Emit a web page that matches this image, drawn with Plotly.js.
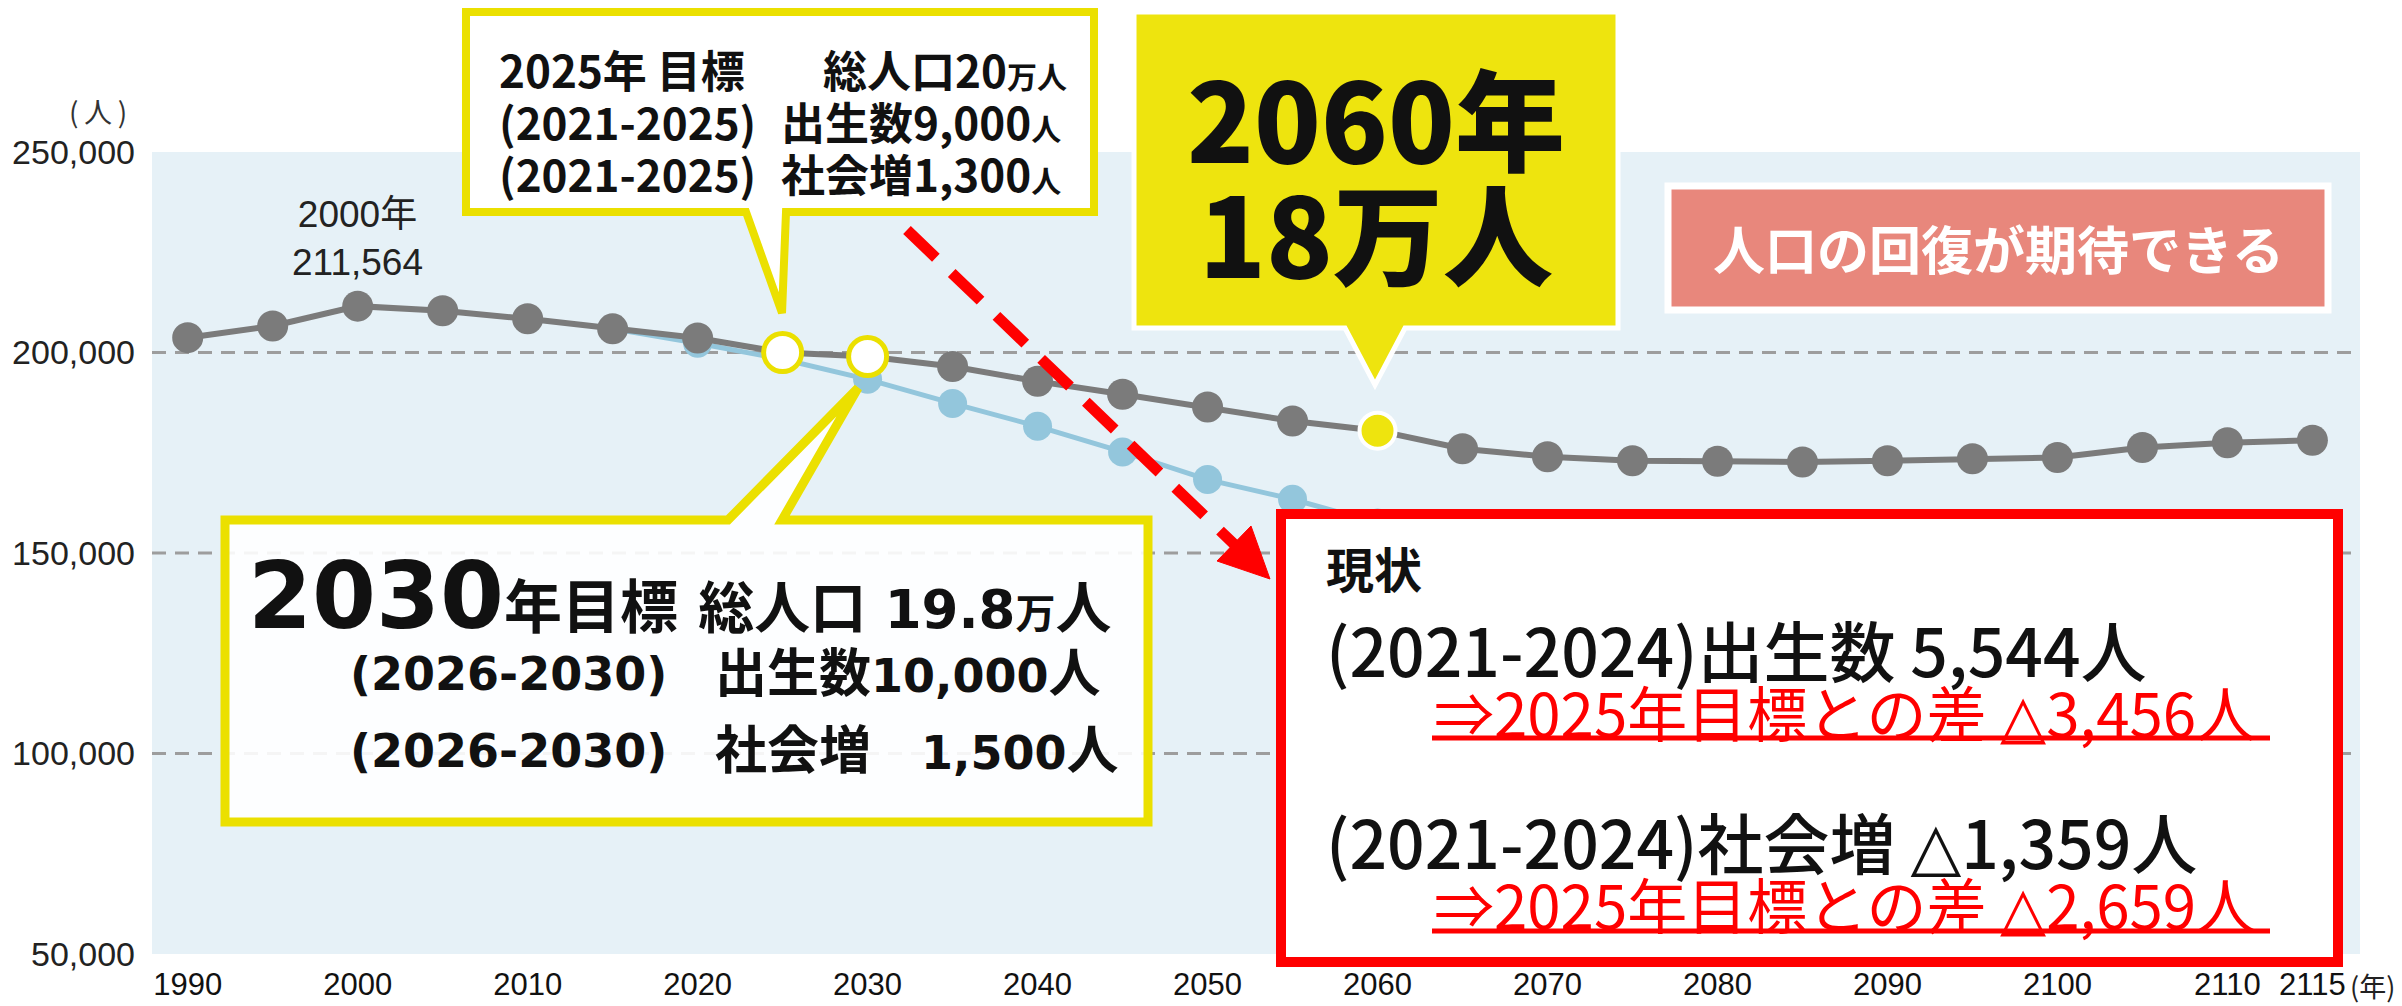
<!DOCTYPE html>
<html><head><meta charset="utf-8">
<script src="https://cdn.plot.ly/plotly-3.0.1.min.js"></script>
<style>html,body{margin:0;padding:0;background:#fff;}#chart{width:2402px;height:1006px;}</style>
</head><body><div id="chart"></div>
<script>
// ---- data ----
const years = [1990,1995,2000,2005,2010,2015,2020,2025,2030,2035,2040,2045,2050,2055,2060,2065,2070,2075,2080,2085,2090,2095,2100,2105,2110,2115];
const targetPop = [203700,206600,211564,210400,208400,205900,203600,200000,199000,196500,192800,189600,186400,182900,180500,176000,174000,173000,172900,172700,173000,173500,173800,176300,177500,178100];
const projYears = [2015,2020,2025,2030,2035,2040,2045,2050,2055,2060];
const projPop = [205900,202300,198300,193300,187300,181600,175200,168300,163400,157500];
const goalYears = [2025,2030];
const highlightYears = [2060];
const xTickVals = [1990,2000,2010,2020,2030,2040,2050,2060,2070,2080,2090,2100,2110,2115];
const xTickText = ['1990','2000','2010','2020','2030','2040','2050','2060','2070','2080','2090','2100','2110','2115'];
const yTickVals = [50000,100000,150000,200000,250000];
const gridVals = [100000,150000,200000];
const peakYear = 2000;

// ---- styling ----
const GRAY='#7b7b7b', BLUE='#93c6dc', YEL='#ebe000', YFILL='#eee40e', RED='#ff0000', SALMON='#e8877c';
const JP='"Noto Sans CJK JP", "Noto Sans", sans-serif';
const LAT='"Liberation Sans", "Noto Sans CJK JP", sans-serif';
const DJ='"DejaVu Sans", "Noto Sans CJK JP", sans-serif';
const L=152,R=2360,T=152,B=954;
const X=px=>(px-L)/(R-L), Y=py=>(B-py)/(B-T);
const path=pts=>'M'+pts.map(p=>X(p[0]).toFixed(5)+','+Y(p[1]).toFixed(5)).join('L')+'Z';
const valAt=(yr)=>targetPop[years.indexOf(yr)];

const traces=[
 {x:projYears,y:projPop,mode:'lines+markers',line:{color:BLUE,width:5},marker:{color:BLUE,size:29},hoverinfo:'skip'},
 {x:years,y:targetPop,mode:'lines+markers',line:{color:GRAY,width:6},marker:{color:GRAY,size:31},hoverinfo:'skip'},
 {x:goalYears,y:goalYears.map(valAt),mode:'markers',marker:{color:'#ffffff',size:38,line:{color:YEL,width:5}},hoverinfo:'skip'},
 {x:highlightYears,y:highlightYears.map(valAt),mode:'markers',marker:{color:YFILL,size:36,line:{color:'#ffffff',width:4}},hoverinfo:'skip'}
];

const shapes=[];
gridVals.forEach(v=>shapes.push({type:'line',xref:'paper',yref:'y',x0:0,x1:1,y0:v,y1:v,layer:'below',line:{color:'#9d9d9d',width:3,dash:'14px,9px'}}));
shapes.push({type:'path',xref:'paper',yref:'paper',layer:'above',path:path([[466,12],[1094,12],[1094,212],[786,212],[782,313],[746,212],[466,212]]),fillcolor:'#ffffff',line:{color:YEL,width:8}});
shapes.push({type:'path',xref:'paper',yref:'paper',layer:'above',path:path([[225,520],[728,520],[858,388],[782,520],[1148,520],[1148,822],[225,822]]),fillcolor:'rgba(255,255,255,0.9)',line:{color:YEL,width:9}});
shapes.push({type:'path',xref:'paper',yref:'paper',layer:'above',path:path([[1134,12],[1618,12],[1618,328],[1405,328],[1375,385],[1345,328],[1134,328]]),fillcolor:YFILL,line:{color:'#ffffff',width:5}});
shapes.push({type:'rect',xref:'paper',yref:'paper',layer:'above',x0:X(1668),x1:X(2328),y0:Y(186),y1:Y(310),fillcolor:SALMON,line:{color:'#ffffff',width:7}});
shapes.push({type:'line',xref:'paper',yref:'paper',layer:'above',x0:X(907),y0:Y(230),x1:X(1236),y1:Y(546),line:{color:RED,width:11,dash:'40px,22px'}});
shapes.push({type:'path',xref:'paper',yref:'paper',layer:'above',path:path([[1270,579],[1217,561],[1251,526]]),fillcolor:RED,line:{color:RED,width:1}});
shapes.push({type:'rect',xref:'paper',yref:'paper',layer:'above',x0:X(1281),x1:X(2338),y0:Y(962),y1:Y(514),fillcolor:'#ffffff',line:{color:RED,width:10}});
shapes.push({type:'line',xref:'paper',yref:'paper',layer:'above',x0:X(1432),x1:X(2270),y0:Y(738),y1:Y(738),line:{color:RED,width:5}});
shapes.push({type:'line',xref:'paper',yref:'paper',layer:'above',x0:X(1432),x1:X(2270),y0:Y(931),y1:Y(931),line:{color:RED,width:5}});

const anns=[];
function ann(text,px,py,size,opt){
  opt=opt||{};
  anns.push({text:text,xref:'paper',yref:'paper',x:X(px),y:Y(py),showarrow:false,xanchor:opt.xa||'left',yanchor:'middle',
    font:{family:opt.family||JP,size:size,color:opt.color||'#111',weight:opt.w||'normal'},align:opt.xa||'left'});
}
const sp=(t,s,extra)=>'<span style="font-size:'+s+'px'+(extra?';'+extra:'')+'">'+t+'</span>';
const NB='\u00a0';
ann('(\u2009人\u2009)',98,111,28,{xa:'center',color:'#333'});
anns.push({text:'2000年<br>211,564',xref:'x',x:peakYear,yref:'paper',y:Y(239),showarrow:false,xanchor:'center',yanchor:'middle',font:{family:LAT,size:37,color:'#222'}});
ann('(年)',2372,985,27,{xa:'center',color:'#222'});
// 2025 callout text
ann('2025年 目標',497,69,44,{w:'bold'});
ann('総人口20'+sp('万人',30),1069,69,44,{w:'bold',xa:'right'});
ann('(2021-2025)',497,121,44,{w:'bold'});
ann('出生数9,000'+sp('人',30),779,121,44,{w:'bold'});
ann('(2021-2025)',497,173,44,{w:'bold'});
ann('社会増1,300'+sp('人',30),779,173,44,{w:'bold'});
// 2030 callout text
ann(sp('2030',92)+sp('年目標',58)+NB+sp('総人口',56)+sp(NB+'19.8',53)+sp('万',40)+sp('人',56),1114,596,58,{w:'bold',family:DJ,xa:'right'});
ann('(2026-2030)',348,674,46,{w:'bold',family:DJ});
ann(sp('出生数',52)+'10,000'+sp('人',52),713,674,46,{w:'bold',family:DJ});
ann('(2026-2030)',348,751,46,{w:'bold',family:DJ});
ann(sp('社会増',52),713,751,46,{w:'bold',family:DJ});
ann('1,500'+sp('人',52),1121,751,46,{w:'bold',family:DJ,xa:'right'});
// 2060
ann('2060年',1376,115,110,{w:900,xa:'center'});
ann('18万人',1376,230,110,{w:900,xa:'center'});
// salmon
ann('人口の回復が期待できる',1998,247,52,{w:'bold',xa:'center',color:'#ffffff'});
// red box text
const tri="font-family:'DejaVu Sans'";
ann('現状',1324,567,48,{w:'bold'});
ann('(2021-2024)出生数 5,544人',1324,648,66,{w:500});
ann('⇒2025年目標との差 '+sp('△',60,tri)+'3,456人',1432,710,60,{color:RED});
ann('(2021-2024)社会増 '+sp('△',66,tri)+'1,359人',1324,840,66,{w:500});
ann('⇒2025年目標との差 '+sp('△',60,tri)+'2,659人',1432,902,60,{color:RED});

const layout={
  width:2402,height:1006,margin:{l:L,r:2402-R,t:T,b:1006-B},
  paper_bgcolor:'#ffffff',plot_bgcolor:'#e6f1f7',showlegend:false,
  xaxis:{range:[1987.9,2117.8],tickvals:xTickVals,ticktext:xTickText,showgrid:false,zeroline:false,showline:false,ticks:'',ticklabelstandoff:9,tickfont:{family:LAT,size:31,color:'#111'}},
  yaxis:{range:[50000,250000],tickvals:yTickVals,tickformat:',',showgrid:false,zeroline:false,showline:false,ticks:'',ticklabelstandoff:16,tickfont:{family:LAT,size:34,color:'#222'}},
  shapes:shapes,annotations:anns
};
Plotly.newPlot('chart',traces,layout,{staticPlot:true,displayModeBar:false});
</script></body></html>
